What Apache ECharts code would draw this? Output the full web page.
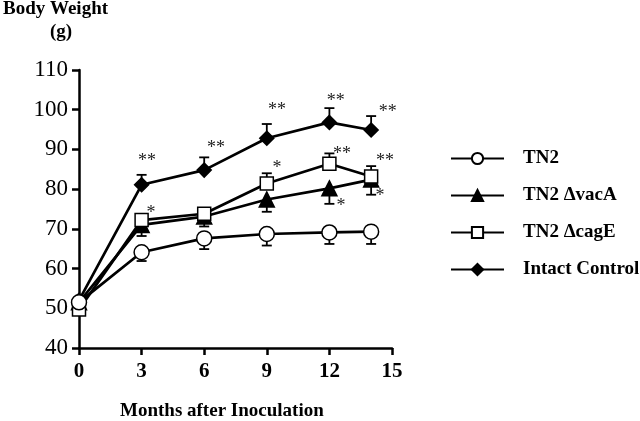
<!DOCTYPE html>
<html><head><meta charset="utf-8">
<script src="https://cdn.jsdelivr.net/npm/echarts@6/dist/echarts.min.js"></script>
<style>html,body{margin:0;padding:0;background:#fff}#c{width:640px;height:421px}</style>
</head><body><div id="c"></div>
<script>
var months = [0, 3, 6, 9, 12, 14];
var seriesNames = ['TN2', 'TN2 \u0394vacA', 'TN2 \u0394cagE', 'Intact Control'];
var tn2 = [51.5, 64.1, 67.6, 68.7, 69.1, 69.3];
var vacA = [51.5, 71.0, 73.1, 77.4, 80.2, 82.4];
var cagE = [49.7, 72.2, 73.8, 81.4, 86.4, 83.2];
var intact = [52.0, 81.1, 84.8, 92.8, 96.8, 94.9];
// error bar end values (one-sided)
var tn2Err = [null, 61.9, 64.9, 65.8, 66.2, 66.2];
var vacAErr = [null, 68.2, 70.6, 74.3, 76.3, 78.6];
var cagEErr = [null, null, 74.8, 84.0, 89.0, 85.8];
var intactErr = [null, 83.6, 88.0, 96.4, 100.4, 98.4];
// significance annotations [x, y, text]
var stars = [
  [3.26, 87.9, '**'], [6.56, 91.1, '**'], [9.49, 100.7, '**'], [12.3, 103.0, '**'], [14.8, 100.0, '**'],
  [9.49, 86.1, '*'], [12.6, 89.6, '**'], [14.66, 87.9, '**'], [3.45, 74.8, '*'],
  [12.55, 76.5, '*'], [14.42, 79.0, '*']
];
var xTicks = [0, 3, 6, 9, 12, 15];
var yTicks = [40, 50, 60, 70, 80, 90, 100, 110];

var serif = '"Liberation Serif", "DejaVu Serif", serif';
var chart = echarts.init(document.getElementById('c'));

function pairs(vals) { return months.map(function (m, i) { return [m, vals[i]]; }); }
function errData(vals, ends) {
  var out = [];
  months.forEach(function (m, i) { if (ends[i] != null) out.push([m, vals[i], ends[i]]); });
  return out;
}
function errSeries(vals, ends) {
  return {
    type: 'custom', z: 1, silent: true,
    data: errData(vals, ends),
    renderItem: function (params, api) {
      var p0 = api.coord([api.value(0), api.value(1)]);
      var p1 = api.coord([api.value(0), api.value(2)]);
      var st = { stroke: '#000', lineWidth: 1.8 };
      return { type: 'group', children: [
        { type: 'line', shape: { x1: p0[0], y1: p0[1], x2: p1[0], y2: p1[1] }, style: st },
        { type: 'line', shape: { x1: p1[0] - 5, y1: p1[1], x2: p1[0] + 5, y2: p1[1] }, style: st }
      ]};
    }
  };
}
function lineSeries(name, vals, symbol, size, fill, z) {
  return {
    name: name, type: 'line', data: pairs(vals), z: z,
    symbol: symbol, symbolSize: size, showAllSymbol: true,
    lineStyle: { color: '#000', width: 2.7 },
    itemStyle: { color: fill, borderColor: '#000', borderWidth: 1.5 }
  };
}

var option = {
  animation: false,
  backgroundColor: '#fff',
  grid: { left: 79, right: 248, top: 70, bottom: 73 },
  xAxis: {
    type: 'value', min: 0, max: 15, interval: 3,
    axisLine: { lineStyle: { color: '#000', width: 2.5 } },
    axisTick: { length: 7, lineStyle: { color: '#000', width: 2.5 } },
    axisLabel: { color: '#000', fontFamily: serif, fontWeight: 'bold', fontSize: 21, margin: 13,
      formatter: function (v) { return xTicks.indexOf(v) >= 0 ? String(v) : ''; } },
    splitLine: { show: false }
  },
  yAxis: {
    type: 'value', min: 40, max: 110, interval: 10,
    axisLine: { show: true, lineStyle: { color: '#000', width: 2.5 } },
    axisTick: { show: true, length: 7, lineStyle: { color: '#000', width: 2.5 } },
    axisLabel: { color: '#000', fontFamily: serif, fontSize: 23, margin: 11,
      formatter: function (v) { return yTicks.indexOf(v) >= 0 ? String(v) : ''; } },
    splitLine: { show: false }
  },
  legend: {
    orient: 'vertical', left: 445, top: 144,
    itemWidth: 53, itemHeight: 14, itemGap: 18,
    data: seriesNames,
    textStyle: { color: '#000', fontFamily: serif, fontWeight: 'bold', fontSize: 19, padding: [0, 0, 0, 14] }
  },
  graphic: [
    { type: 'text', left: 3, top: 0, style: { text: 'Body Weight', font: 'bold 19px ' + serif, fill: '#000' } },
    { type: 'text', left: 50, top: 23, style: { text: '(g)', font: 'bold 19px ' + serif, fill: '#000' } },
    { type: 'text', left: 120, top: 402, style: { text: 'Months after Inoculation', font: 'bold 19px ' + serif, fill: '#000' } }
  ],
  series: [
    errSeries(tn2, tn2Err), errSeries(vacA, vacAErr), errSeries(cagE, cagEErr), errSeries(intact, intactErr),
    lineSeries(seriesNames[3], intact, 'diamond', 14, '#000', 3),
    lineSeries(seriesNames[1], vacA, 'triangle', 15, '#000', 4),
    lineSeries(seriesNames[2], cagE, 'rect', 13, '#fff', 5),
    lineSeries(seriesNames[0], tn2, 'circle', 15, '#fff', 6),
    {
      type: 'custom', z: 7, silent: true, data: stars,
      renderItem: function (params, api) {
        var p = api.coord([api.value(0), api.value(1)]);
        return { type: 'text', x: p[0], y: p[1] + 3,
          style: { text: stars[params.dataIndex][2], font: '18px ' + serif, fill: '#222', align: 'center', verticalAlign: 'middle' } };
      }
    }
  ]
};
chart.setOption(option);
</script></body></html>
